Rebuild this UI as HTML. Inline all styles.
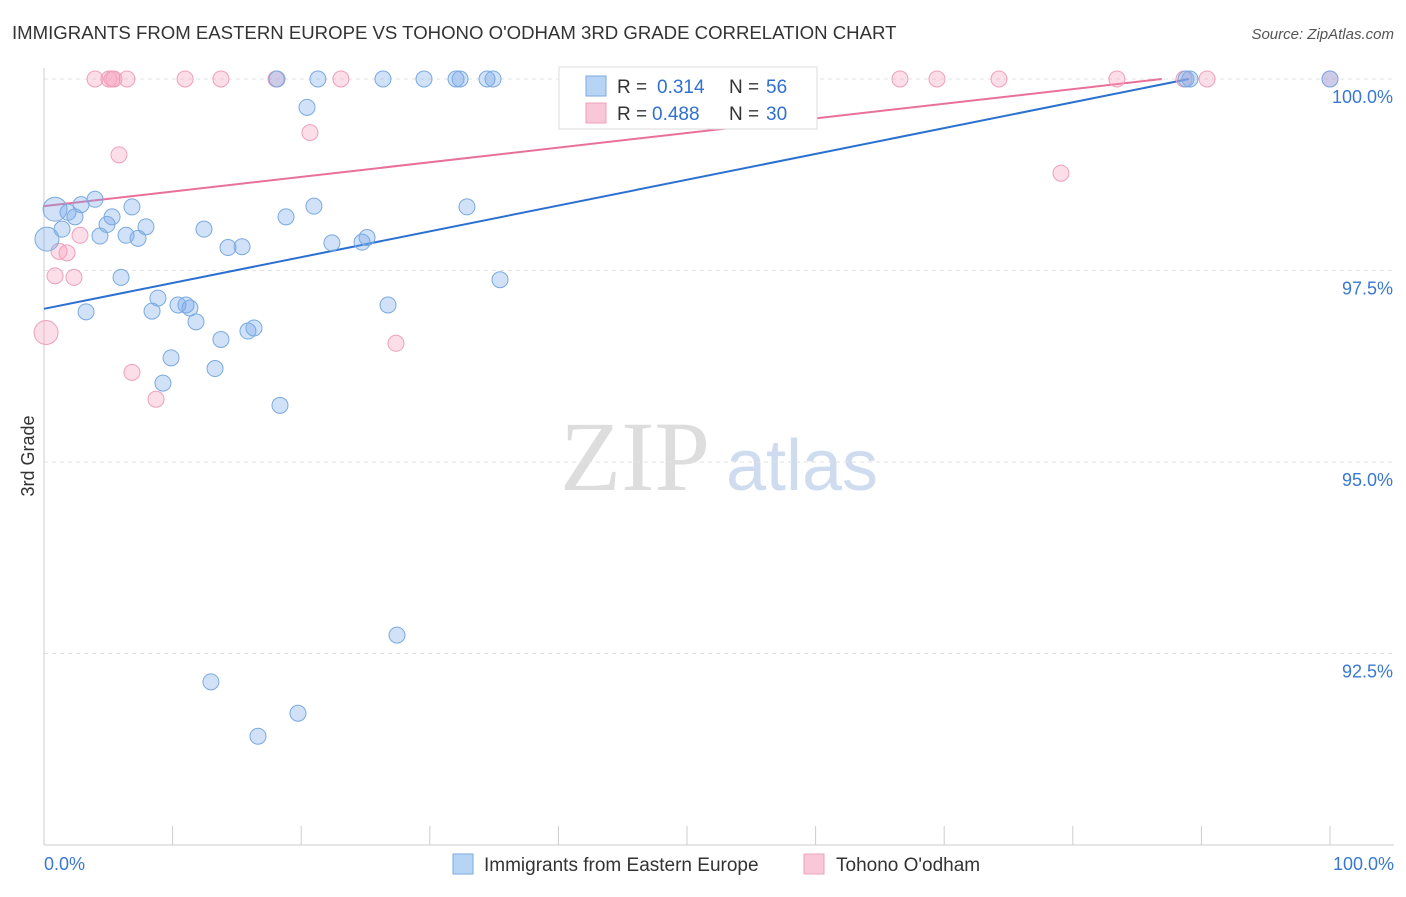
<!DOCTYPE html>
<html><head><meta charset="utf-8"><style>
body{margin:0;background:#fff;font-family:"Liberation Sans",sans-serif;}
</style></head><body>
<svg id="c" width="1406" height="892" xmlns="http://www.w3.org/2000/svg" font-family="Liberation Sans, sans-serif">
<text x="12" y="39" font-size="18.6" fill="#333">IMMIGRANTS FROM EASTERN EUROPE VS TOHONO O'ODHAM 3RD GRADE CORRELATION CHART</text>
<text x="1394" y="39" font-size="15" fill="#555" font-style="italic" text-anchor="end">Source: ZipAtlas.com</text>
<text x="34" y="456" font-size="18" fill="#333" transform="rotate(-90 34 456)" text-anchor="middle">3rd Grade</text>
<g><text x="635" y="490" font-size="100" fill="#ddd" style="font-family:'Liberation Serif',serif" text-anchor="middle">ZIP</text><text x="802" y="490" font-size="72" fill="#cfdcf0" text-anchor="middle">atlas</text></g>
<g id="grid"></g><g id="axes"></g><g id="lines"></g><g id="pts"></g>
<g>
<rect x="559" y="67" width="258" height="62" fill="#fff" stroke="#ddd"/>
<rect x="586" y="76" width="20" height="20" fill="#b8d4f5" stroke="#7aaae0"/>
<text x="617" y="93" font-size="19" fill="#333">R = </text><text x="657" y="93" font-size="19" fill="#3070d0">0.314</text>
<text x="729" y="93" font-size="19" fill="#333">N = </text><text x="766" y="93" font-size="19" fill="#3070d0">56</text>
<rect x="586" y="103" width="20" height="20" fill="#f8c8d8" stroke="#eea0ba"/>
<text x="617" y="120" font-size="19" fill="#333">R = </text><text x="652" y="120" font-size="19" fill="#3070d0">0.488</text>
<text x="729" y="120" font-size="19" fill="#333">N = </text><text x="766" y="120" font-size="19" fill="#3070d0">30</text>
</g>
<g>
<rect x="453" y="854" width="20" height="20" fill="#b8d4f5" stroke="#7aaae0"/>
<text x="484" y="871" font-size="19" fill="#333">Immigrants from Eastern Europe</text>
<rect x="804" y="854" width="20" height="20" fill="#f8c8d8" stroke="#eea0ba"/>
<text x="836" y="871" font-size="19" fill="#333">Tohono O'odham</text>
</g>
</svg>
<script>
const yTicks=[100,97.5,95,92.5];
const yTickLabels=["100.0%","97.5%","95.0%","92.5%"];
const xTickCount=10;
const blueX=[0.86,0.23,1.4,1.87,2.41,2.88,3.97,3.27,4.35,4.9,5.29,5.99,6.38,6.84,7.31,7.93,8.4,8.86,9.25,9.88,10.42,11.04,11.35,11.82,12.44,12.98,13.3,13.76,14.31,15.4,15.86,16.33,16.64,18.35,18.12,18.82,19.75,20.45,20.99,21.3,22.39,24.73,25.12,26.36,26.75,27.45,29.55,32.04,32.35,32.89,34.45,34.92,35.46,88.8,89.11,100];
const blueY=[98.3,97.91,98.04,98.26,98.2,98.36,98.43,96.96,97.95,98.1,98.2,97.41,97.96,98.33,97.92,98.07,96.97,97.14,96.03,96.36,97.05,97.05,97.01,96.83,98.04,92.13,96.22,96.6,97.8,97.81,96.71,96.75,91.42,95.74,100,98.2,91.72,99.63,98.34,100,97.86,97.87,97.93,100,97.05,92.74,100,100,100,98.33,100,100,97.38,100,100,100];
const pinkX=[0.16,0.86,1.17,1.79,2.33,2.8,3.97,5.05,5.29,5.44,5.83,6.45,6.84,8.71,10.97,13.76,18.04,20.68,23.09,27.37,47.51,66.56,69.44,74.26,79.08,83.43,88.65,90.44,100,50.0];
const pinkY=[96.69,97.43,97.75,97.73,97.41,97.96,100,100,100,100,99.01,100,96.17,95.82,100,100,100,99.3,100,96.55,100,100,100,100,98.77,100,100,100,100,100];
const blueLine=[97.0,0.0337];
const pinkLine=[98.34,0.0191];
const bigBlue=[0,1], bigPink=[0];
const X0=44,X1=1330,Y100=79,PX=76.6;
const sx=v=>X0+(X1-X0)*v/100, sy=v=>Y100+(100-v)*PX;
const NS="http://www.w3.org/2000/svg";
function mk(t,a,p){const e=document.createElementNS(NS,t);for(const k in a)e.setAttribute(k,a[k]);document.getElementById(p).appendChild(e);return e;}
yTicks.forEach((t,i)=>{
 const g=mk('line',{x1:X0,x2:1394,y1:sy(t),y2:sy(t),stroke:'#e2e2e2','stroke-dasharray':'4 4'},'grid');
 
 
 const l=mk('text',{x:1393,y:sy(t)+24,'font-size':18,fill:'#3a78d0','text-anchor':'end'},'axes');
 l.textContent=yTickLabels[i];
 
 
});
let a=mk('line',{x1:X0,x2:X0,y1:68,y2:845,stroke:'#ccc'},'axes');


a=mk('line',{x1:X0,x2:1394,y1:845,y2:845,stroke:'#ccc'},'axes');


for(let i=0;i<=xTickCount;i++){const t=mk('line',{x1:sx(i*10),x2:sx(i*10),y1:826,y2:845,stroke:'#ccc'},'axes');
 
 }
let xl=mk('text',{x:44,y:870,'font-size':18,fill:'#3a78d0'},'axes');xl.textContent='0.0%';


xl=mk('text',{x:1394,y:870,'font-size':18,fill:'#3a78d0','text-anchor':'end'},'axes');xl.textContent='100.0%';


function trend(p,col,name){const xe=Math.min(100,(100-p[0])/p[1]);
 const l=mk('line',{x1:sx(0),y1:sy(p[0]),x2:sx(xe),y2:sy(p[0]+p[1]*xe),stroke:col,'stroke-width':2},'lines');
 
 }
trend(pinkLine,'#e8709a','pink-trend-line');
trend(blueLine,'#2a70d0','blue-trend-line');
function pts(xs,ys,big,f,s,name){xs.forEach((x,i)=>{const r=big.includes(i)?12:8;
 const c=mk('circle',{cx:sx(x),cy:sy(ys[i]),r:r,fill:f,stroke:s,'stroke-width':1},'pts');
 
 });}
pts(pinkX,pinkY,bigPink,'rgba(245,160,190,0.35)','#eea0ba','pink-point');
pts(blueX,blueY,bigBlue,'rgba(120,170,235,0.35)','#7aaae0','blue-point');
</script>
</body></html>
